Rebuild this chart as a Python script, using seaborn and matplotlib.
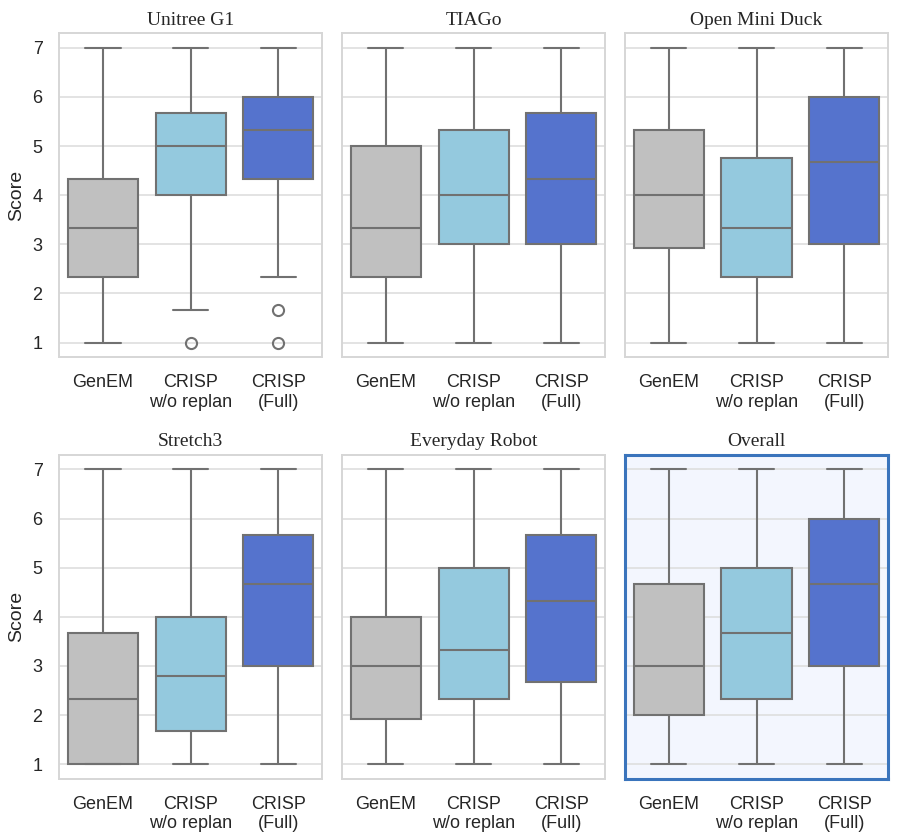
import matplotlib
matplotlib.use("Agg")
import matplotlib.pyplot as plt
import pandas as pd
import seaborn as sns

methods = ["GenEM", "CRISP\nw/o replan", "CRISP\n(Full)"]
robots = ["Unitree G1", "TIAGo", "Open Mini Duck", "Stretch3", "Everyday Robot", "Overall"]
palette = ["silver", "skyblue", "royalblue"]

# per-robot scores, one list per method (GenEM, w/o replan, Full)
unitree_g1 = [
    [1, 1.67, 2, 2.33, 2.67, 3, 3.33, 3.67, 4, 4.33, 5, 6, 7],
    [1, 1.67, 3.67, 4, 4.33, 4.67, 5, 5.33, 5.33, 5.67, 6, 6.33, 7],
    [1, 1.67, 2.33, 4.33, 4.67, 5, 5.33, 5.67, 5.67, 6, 6.33, 6.67, 7],
]
tiago = [
    [1, 1.67, 2, 2.33, 2.67, 3, 3.33, 3.67, 4.33, 5, 5.67, 6.33, 7],
    [1, 2, 2.67, 3, 3.33, 3.67, 4, 4.33, 5, 5.33, 6, 6.67, 7],
    [1, 2, 2.67, 3, 3.33, 4, 4.33, 4.67, 5.33, 5.67, 6, 6.67, 7],
]
open_mini_duck = [
    [1, 2, 2.67, 2.92, 3.33, 3.67, 4, 4.33, 5, 5.33, 6, 6.67, 7],
    [1, 1.67, 2, 2.33, 2.67, 3, 3.33, 3.67, 4.33, 4.75, 5.33, 6.33, 7],
    [1, 2, 2.67, 3, 3.67, 4.33, 4.67, 5, 5.67, 6, 6.33, 6.67, 7],
]
stretch3 = [
    [1, 1, 1, 1, 1.33, 2, 2.33, 2.67, 3.33, 3.67, 4.67, 6, 7],
    [1, 1.33, 1.67, 1.67, 2, 2.33, 2.8, 3.33, 3.67, 4, 5, 6, 7],
    [1, 2, 2.67, 3, 3.67, 4.33, 4.67, 5, 5.33, 5.67, 6, 6.67, 7],
]
everyday_robot = [
    [1, 1.33, 1.67, 1.92, 2.33, 2.67, 3, 3.33, 3.67, 4, 5, 6, 7],
    [1, 1.67, 2, 2.33, 2.67, 3, 3.33, 3.67, 4.33, 5, 5.67, 6.33, 7],
    [1, 1.67, 2.33, 2.67, 3.33, 4, 4.33, 4.67, 5.33, 5.67, 6, 6.67, 7],
]
overall = [
    [1, 1.33, 1.67, 2, 2.33, 2.67, 3, 3.67, 4.33, 4.67, 5.33, 6, 7],
    [1, 1.67, 2, 2.33, 2.67, 3.33, 3.67, 4, 4.67, 5, 5.67, 6.33, 7],
    [1, 2, 2.67, 3, 3.67, 4.33, 4.67, 5, 5.67, 6, 6.33, 6.67, 7],
]
panel_scores = [unitree_g1, tiago, open_mini_duck, stretch3, everyday_robot, overall]

sns.set_theme(style="whitegrid", rc={"grid.color": "#dedede", "grid.linewidth": 1.2,
                                     "axes.edgecolor": "#d6d6d6", "axes.linewidth": 1.4})
plt.rcParams["font.family"] = ["Liberation Sans", "DejaVu Sans"]

fig, axes = plt.subplots(2, 3, figsize=(8.97, 8.4), dpi=100, sharey=True)
fig.subplots_adjust(left=0.066, right=0.99, top=0.9607, bottom=0.0726, wspace=0.076, hspace=0.30)

for ax, robot, scores in zip(axes.flat, robots, panel_scores):
    rows = [(m, s) for m, vals in zip(methods, scores) for s in vals]
    df = pd.DataFrame(rows, columns=["Method", "Score"])
    sns.boxplot(data=df, x="Method", y="Score", hue="Method", order=methods,
                palette=palette, legend=False, ax=ax, linecolor="#717171", linewidth=1.5,
                flierprops={"markersize": 8, "markeredgewidth": 1.5})
    ax.set_title(robot, family="Liberation Serif", fontsize=14, pad=6)
    ax.set_xlabel("")
    ax.tick_params(axis="both", labelsize=13)
    ax.tick_params(axis="x", pad=6)
    ax.tick_params(axis="y", pad=6)
    ax.set_yticks([1, 2, 3, 4, 5, 6, 7])

for ax in axes[:, 0]:
    ax.set_ylabel("Score", fontsize=14, labelpad=5)
for ax in axes[:, 1:].flat:
    ax.set_ylabel("")

# highlight the overall panel
hl = axes[1, 2]
hl.set_facecolor("#f3f6fe")
for sp in hl.spines.values():
    sp.set_edgecolor("#3a74bc")
    sp.set_linewidth(2.2)

fig.savefig("out.png", dpi=100)
